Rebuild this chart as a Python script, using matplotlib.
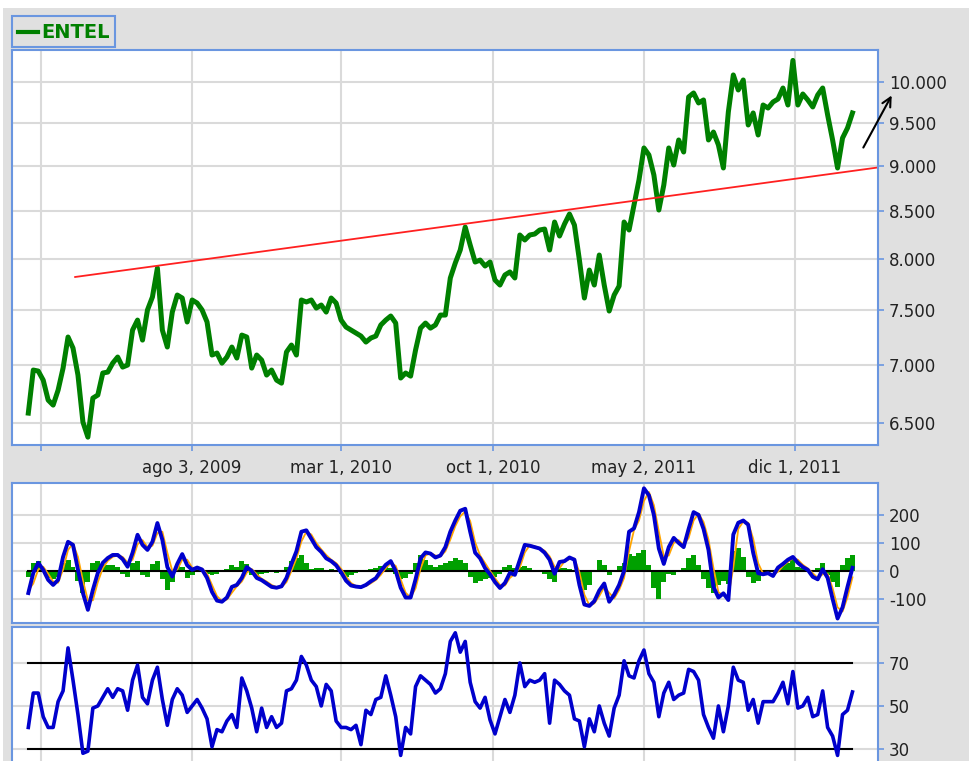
import matplotlib
matplotlib.use("Agg")
import matplotlib.pyplot as plt
from matplotlib.patches import Rectangle, FancyArrowPatch
from matplotlib.lines import Line2D
from matplotlib.ticker import FixedLocator, NullLocator
import pandas as pd

# weekly readings taken off the chart (ENTEL, dic 2008 - feb 2012)
dates = pd.date_range("2008-12-15", periods=167, freq="7D")

price = [
    6585, 6953, 6944, 6865, 6694, 6652, 6779, 6970, 7249, 7149,
    6909, 6511, 6388, 6711, 6737, 6927, 6935, 7014, 7068, 6979,
    6997, 7313, 7406, 7221, 7501, 7625, 7909, 7313, 7158, 7481,
    7644, 7615, 7388, 7596, 7567, 7501, 7388, 7086, 7104, 7014,
    7068, 7158, 7059, 7267, 7249, 6970, 7086, 7041, 6909, 6953,
    6865, 6839, 7113, 7176, 7086, 7596, 7577, 7596, 7519, 7548,
    7481, 7615, 7567, 7406, 7341, 7313, 7286, 7258, 7203, 7240,
    7258, 7360, 7406, 7444, 7378, 6883, 6927, 6900, 7131, 7331,
    7378, 7331, 7360, 7453, 7453, 7810, 7959, 8091, 8329, 8142,
    7969, 7989, 7929, 7969, 7790, 7741, 7840, 7870, 7810, 8246,
    8194, 8246, 8256, 8298, 8308, 8091, 8382, 8235, 8361, 8467,
    8350, 7989, 7615, 7889, 7741, 8040, 7741, 7491, 7644, 7731,
    8382, 8298, 8564, 8839, 9204, 9123, 8895, 8510, 8783, 9204,
    9008, 9297, 9157, 9816, 9866, 9742, 9779, 9297, 9391, 9239,
    8974, 9632, 10093, 9903, 10029, 9475, 9620, 9356, 9717, 9680,
    9754, 9791, 9928, 9717, 10280, 9717, 9853, 9779, 9693, 9841,
    9928, 9595, 9297, 8974, 9320, 9439, 9620,
]

macd = [
    -79, -7, 29, 4, -32, -50, -32, 50, 104, 93,
    4, -79, -139, -68, -7, 29, 46, 57, 57, 42,
    15, 65, 129, 93, 75, 104, 171, 111, 14, -20,
    25, 60, 20, 4, 12, 5, -25, -75, -106, -110,
    -95, -57, -50, -25, 14, 0, -25, -33, -45, -57,
    -60, -55, -25, 25, 70, 140, 145, 115, 85, 68,
    45, 35, 20, -5, -35, -52, -56, -58, -50, -37,
    -26, 0, 22, 35, 0, -60, -95, -95, -30, 45,
    66, 62, 48, 55, 85, 140, 180, 215, 222, 140,
    65, 45, 10, -12, -40, -61, -43, -7, -14, 39,
    93, 90, 85, 80, 65, 40, -10, 32, 35, 48,
    40, -50, -120, -125, -108, -70, -45, -110, -85, -50,
    0, 140, 152, 210, 295, 270, 200, 80, 25, 85,
    118, 100, 85, 150, 210, 200, 150, 75, -57, -95,
    -80, -104, 130, 172, 180, 165, 65, -8, -12, -8,
    -18, 12, 25, 40, 50, 29, 14, 4, -21, -30,
    6, -25, -100, -170, -130, -57, 11,
]

signal = [
    -70, -45, 5, 15, -10, -38, -42, 5, 75, 98,
    50, -35, -105, -105, -40, 10, 36, 50, 56, 50,
    30, 40, 95, 110, 85, 90, 135, 140, 65, 0,
    5, 40, 40, 12, 8, 8, -10, -50, -90, -108,
    -102, -78, -55, -38, -6, 7, -12, -28, -38, -50,
    -58, -58, -40, 0, 45, 105, 140, 130, 100, 77,
    57, 40, 28, 8, -20, -43, -54, -57, -54, -44,
    -32, -14, 10, 28, 18, -30, -78, -95, -62, 8,
    55, 64, 55, 52, 70, 112, 160, 195, 212, 178,
    102, 55, 28, 0, -26, -50, -52, -25, -10, 12,
    66, 92, 88, 82, 72, 52, 15, 10, 34, 42,
    44, -5, -85, -122, -116, -90, -58, -78, -98, -68,
    -25, 70, 146, 180, 250, 282, 235, 140, 52, 55,
    100, 110, 92, 118, 180, 205, 175, 112, 10, -76,
    -88, -92, 13, 150, 176, 172, 115, 28, -10, -10,
    -13, -3, 18, 32, 45, 40, 22, 9, -8, -25,
    -12, -10, -62, -130, -145, -94, -23,
]

hist = [
    -21, 30, 35, 5, -25, -28, -20, 30, 40, 15,
    -35, -79, -40, 30, 36, 25, 20, 22, 15, -10,
    -21, 30, 36, -15, -21, 25, 36, -30, -68, -40,
    18, 15, -25, -15, 8, 5, -10, -15, -12, -5,
    8, 20, 15, 35, 25, -15, -20, -12, -8, -5,
    -6, 4, 15, 35, 45, 57, 30, 8, 10, 12,
    5, 8, -5, -12, -21, -15, -8, -5, 5, 8,
    12, 18, 15, 12, -10, -30, -25, -10, 30, 57,
    40, 20, 15, 22, 30, 35, 46, 40, 30, -20,
    -43, -36, -30, -25, -20, -10, 15, 21, 10, 15,
    18, 12, 5, -5, -10, -30, -39, 10, 11, 8,
    5, -40, -68, -50, 5, 39, 20, -15, 5, 18,
    30, 60, 55, 65, 75, 20, -60, -100, -40, -10,
    -15, 5, 10, 45, 57, 20, -30, -60, -79, -50,
    -35, -45, 70, 82, 50, -20, -43, -35, -10, 5,
    -5, 10, 20, 30, 46, 15, 10, 8, -5, 10,
    29, -15, -40, -57, 20, 45, 57,
]

rsi = [
    40, 56, 56, 45, 40, 40, 52, 57, 77, 62,
    46, 28, 29, 49, 50, 54, 58, 54, 58, 57,
    48, 62, 69, 54, 51, 62, 68, 53, 41, 53,
    58, 55, 47, 50, 53, 49, 44, 31, 39, 38,
    43, 46, 40, 63, 57, 49, 38, 49, 40, 45,
    40, 42, 57, 58, 62, 73, 69, 62, 59, 50,
    60, 57, 43, 40, 40, 39, 41, 32, 48, 46,
    53, 54, 64, 55, 45, 27, 40, 37, 59, 64,
    62, 60, 56, 58, 65, 80, 84, 75, 80, 61,
    52, 49, 54, 43.5, 37, 45, 53, 47, 55, 70,
    59, 62, 61, 62, 65, 42, 62, 60, 57, 55,
    44, 43, 31, 44, 38, 50, 42, 36, 49, 55,
    71, 64, 63, 71, 76, 65, 61, 45, 56, 61,
    53, 55, 56, 67, 66, 62, 46, 40, 35, 50,
    38, 50, 68, 62, 61, 48, 53, 42, 52, 52,
    52, 56, 61, 51, 66, 49, 50, 54, 45, 46,
    57, 40, 36, 27, 46, 48, 56.5,
]

trend_dates = pd.to_datetime(["2009-02-19", "2012-03-27"])
trend_vals = [7820, 8980]

grid_dates = pd.to_datetime(["2009-01-02", "2009-08-03", "2010-03-01",
                             "2010-10-01", "2011-05-02", "2011-12-01"])
grid_labels = ["", "ago 3, 2009", "mar 1, 2010", "oct 1, 2010",
               "may 2, 2011", "dic 1, 2011"]

price_ticks = [6500, 7000, 7500, 8000, 8500, 9000, 9500, 10000]
price_labels = ["6.500", "7.000", "7.500", "8.000", "8.500", "9.000", "9.500", "10.000"]
macd_ticks = [-100, 0, 100, 200]
rsi_ticks = [30, 50, 70]

W, H = 970, 761
BLUE_EDGE = "#6a96e0"
GRID = "#dadada"


def box(left, top, right, bottom):
    return [left / W, 1 - bottom / H, (right - left) / W, (bottom - top) / H]


fig = plt.figure(figsize=(W / 100, H / 100), dpi=100, facecolor="white")
fig.add_artist(Rectangle((3 / W, 0), 1, 1 - 8 / H, transform=fig.transFigure,
                         facecolor="#e0e0e0", edgecolor="none", zorder=-5))

xlim = pd.to_datetime(["2008-11-22", "2012-03-27"])


def style(ax):
    ax.set_facecolor("white")
    for s in ax.spines.values():
        s.set_color(BLUE_EDGE)
        s.set_linewidth(1.5)
    ax.set_xlim(xlim[0], xlim[1])
    ax.set_xticks(grid_dates)
    ax.yaxis.tick_right()
    ax.yaxis.set_minor_locator(NullLocator())
    ax.grid(True, color=GRID, linewidth=1.5)
    ax.set_axisbelow(True)
    ax.tick_params(axis="y", colors=BLUE_EDGE, labelcolor="#222222",
                   labelsize=12, length=4, width=1.2, pad=4)


# price panel
ax1 = fig.add_axes(box(12, 50, 878, 445))
style(ax1)
ax1.set_yscale("log")
ax1.set_ylim(6325, 10416)
ax1.yaxis.set_major_locator(FixedLocator(price_ticks))
ax1.yaxis.set_minor_locator(NullLocator())
ax1.set_yticklabels(price_labels)
ax1.set_xticklabels(grid_labels)
ax1.tick_params(axis="x", colors=BLUE_EDGE, labelcolor="#222222",
                labelsize=12, length=4, width=1.2, pad=6)
ax1.plot(dates, price, color="#008000", linewidth=3.6, solid_joinstyle="round")
ax1.plot(trend_dates, trend_vals, color="#ff2020", linewidth=1.3)

# MACD panel
ax2 = fig.add_axes(box(12, 483, 878, 623))
style(ax2)
ax2.set_ylim(-186, 314)
ax2.set_yticks(macd_ticks)
ax2.set_yticklabels([str(v) for v in macd_ticks])
ax2.tick_params(axis="x", length=0, labelbottom=False)
ax2.bar(dates, hist, width=7, color="#00a000", linewidth=0)
ax2.plot([dates[0], dates[-1]], [0, 0], color="black", linewidth=1.5)
ax2.plot(dates, signal, color="#ffa500", linewidth=1.3)
ax2.plot(dates, macd, color="#0000cc", linewidth=2.8, solid_joinstyle="round")

# RSI panel (cut by the bottom edge of the image)
ax3 = fig.add_axes(box(12, 627, 878, 775))
style(ax3)
ax3.set_ylim(17.9, 86.7)
ax3.set_yticks(rsi_ticks)
ax3.set_yticklabels([str(v) for v in rsi_ticks])
ax3.tick_params(axis="x", length=0, labelbottom=False)
ax3.plot([dates[0], dates[-1]], [70, 70], color="black", linewidth=1.5)
ax3.plot([dates[0], dates[-1]], [30, 30], color="black", linewidth=1.5)
ax3.plot(dates, rsi, color="#0000cc", linewidth=2.6, solid_joinstyle="round")

# legend box
fig.add_artist(Rectangle(((12) / W, 1 - 47 / H), 103 / W, 31 / H,
                         transform=fig.transFigure, facecolor="#e0e0e0",
                         edgecolor=BLUE_EDGE, linewidth=1.5))
fig.add_artist(Line2D([18 / W, 38 / W], [1 - 32 / H, 1 - 32 / H],
                      transform=fig.transFigure, color="#008000", linewidth=3))
fig.text(41 / W, 1 - 32 / H, "ENTEL", color="#008000", fontsize=14,
         fontweight="bold", va="center", ha="left")

# hand-drawn arrow
fig.add_artist(FancyArrowPatch((862 / W, 1 - 150 / H), (893 / W, 1 - 93 / H),
                               transform=fig.transFigure, arrowstyle="->",
                               mutation_scale=16, color="black", linewidth=1.5))

plt.savefig("out.png", dpi=100, facecolor=fig.get_facecolor())
